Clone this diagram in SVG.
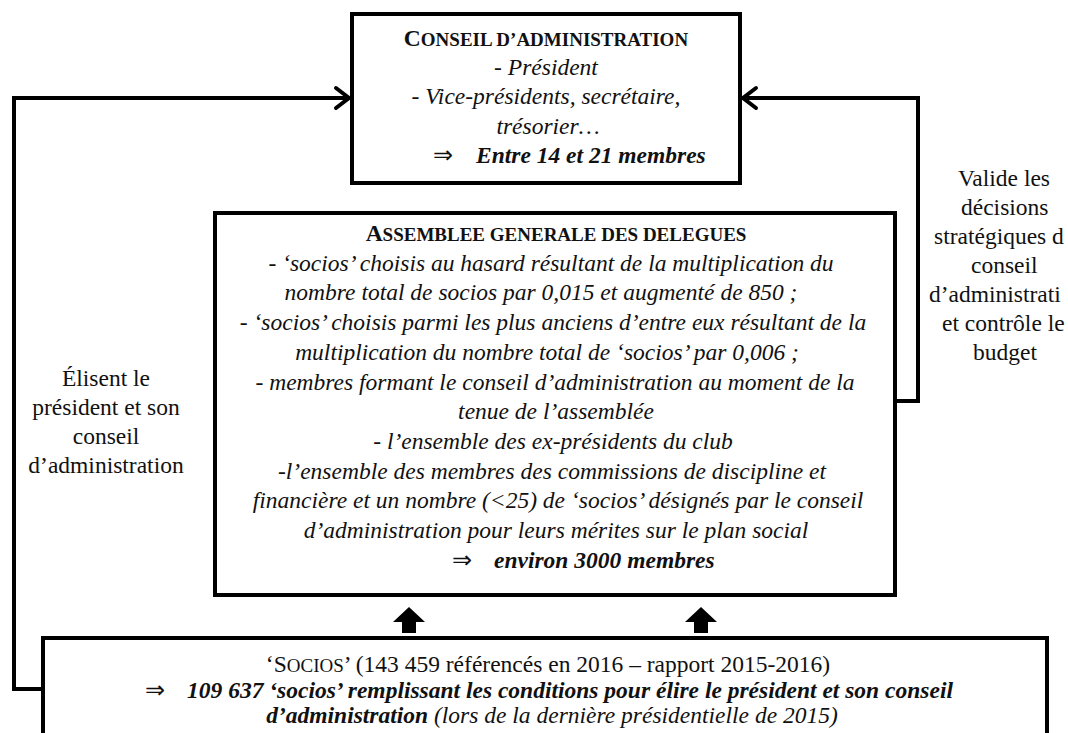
<svg xmlns="http://www.w3.org/2000/svg" width="1068" height="733" viewBox="0 0 1068 733">
<style>
.box{fill:#fff;stroke:#000;stroke-width:4}
.conn{fill:none;stroke:#000;stroke-width:4}
.head{fill:none;stroke:#000;stroke-width:4;stroke-linecap:round;stroke-linejoin:miter}
text{font-family:"Liberation Serif","Times New Roman",serif;font-size:23.5px;fill:#111}
.c{text-anchor:middle}
.i{font-style:italic}
.b{font-weight:bold}
.sc{font-size:19px}
</style>
<rect width="1068" height="733" fill="#fff"/>
<g id="connectors">
  <path class="conn" d="M42,689 H14 V98 H348"/>
  <path class="head" d="M336,88 L349,98 L336,108"/>
  <path class="conn" d="M895,401 H918 V98 H744"/>
  <path class="head" d="M756,88 L743,98 L756,108"/>
  <path d="M409,607 L425,622 L416,622 L416,633 L402,633 L402,622 L393,622 Z" fill="#000"/>
  <path d="M701,607 L717,622 L708,622 L708,633 L694,633 L694,622 L685,622 Z" fill="#000"/>
</g>
<g id="conseil">
  <rect class="box" x="352" y="14" width="388" height="169"/>
  <text class="c b" x="546" y="46">C<tspan class="sc">ONSEIL D’ADMINISTRATION</tspan></text>
  <text class="c i" x="546" y="75">- Président</text>
  <text class="c i" x="546" y="104">- Vice-présidents, secrétaire,</text>
  <text class="c i" x="548" y="134">trésorier…</text>
  <text x="433" y="163">⇒</text>
  <text class="i b" x="476" y="163">Entre 14 et 21 membres</text>
</g>
<g id="assemblee">
  <rect class="box" x="215" y="213" width="680" height="382"/>
  <text class="c b" x="556" y="241">A<tspan class="sc">SSEMBLEE GENERALE DES DELEGUES</tspan></text>
  <text class="c i" x="551" y="271">- ‘socios’ choisis au hasard résultant de la multiplication du</text>
  <text class="c i" x="541" y="300">nombre total de socios par 0,015 et augmenté de 850 ;</text>
  <text class="c i" x="553" y="330">- ‘socios’ choisis parmi les plus anciens d’entre eux résultant de la</text>
  <text class="c i" x="547" y="360">multiplication du nombre total de ‘socios’ par 0,006 ;</text>
  <text class="c i" x="555" y="390">- membres formant le conseil d’administration au moment de la</text>
  <text class="c i" x="556" y="419">tenue de l’assemblée</text>
  <text class="c i" x="553" y="449">- l’ensemble des ex-présidents du club</text>
  <text class="c i" x="552" y="479">-l’ensemble des membres des commissions de discipline et</text>
  <text class="c i" x="558" y="508">financière et un nombre (&lt;25) de ‘socios’ désignés par le conseil</text>
  <text class="c i" x="556" y="538">d’administration pour leurs mérites sur le plan social</text>
  <text x="452" y="568">⇒</text>
  <text class="i b" x="494" y="568">environ 3000 membres</text>
</g>
<g id="socios">
  <rect class="box" x="43" y="638" width="1004" height="130"/>
  <text class="c" x="548" y="672">‘S<tspan class="sc">OCIOS</tspan>’ (143 459 référencés en 2016 – rapport 2015-2016)</text>
  <text x="145" y="698">⇒</text>
  <text class="i b" x="187" y="698">109 637 ‘socios’ remplissant les conditions pour élire le président et son conseil</text>
  <text class="c i" x="552" y="723"><tspan class="b">d’administration</tspan> (lors de la dernière présidentielle de 2015)</text>
</g>
<g id="label-elisent">
  <text class="c" x="106" y="386">Élisent le</text>
  <text class="c" x="106" y="415">président et son</text>
  <text class="c" x="106" y="444">conseil</text>
  <text class="c" x="106" y="473">d’administration</text>
</g>
<g id="label-valide">
  <text x="958" y="186">Valide les</text>
  <text x="961" y="215">décisions</text>
  <text x="934" y="244">stratégiques d</text>
  <text x="971" y="273">conseil</text>
  <text x="929" y="302">d’administrati</text>
  <text x="942" y="331">et contrôle le</text>
  <text x="973" y="360">budget</text>
</g>
</svg>
